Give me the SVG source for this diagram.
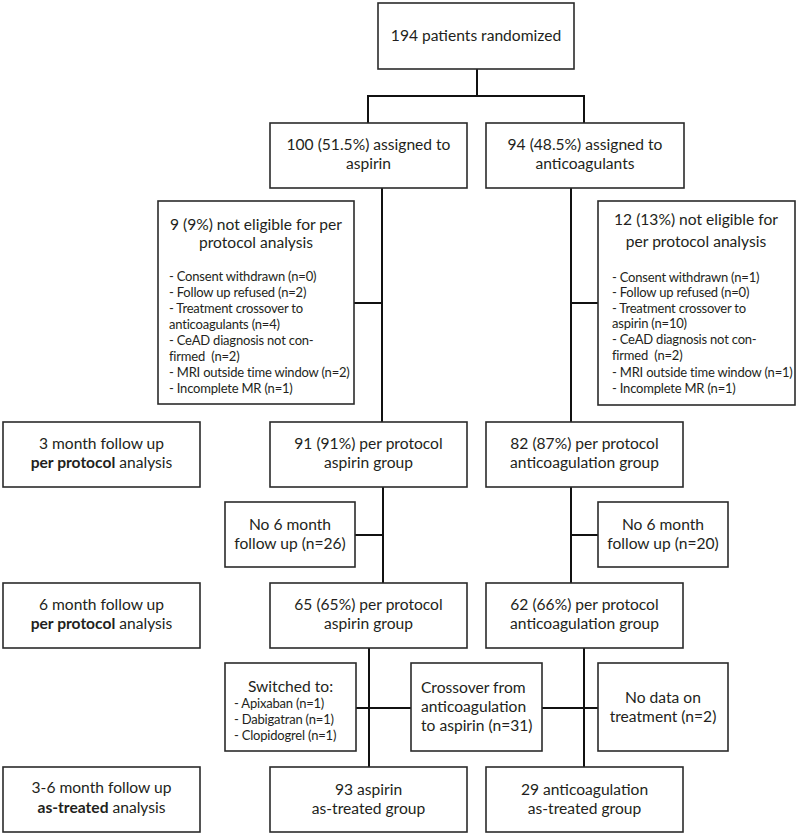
<svg xmlns="http://www.w3.org/2000/svg" width="798" height="836" viewBox="0 0 798 836">
<style>
rect.box{fill:#fff;stroke:#2b2b2b;stroke-width:1.6}
.conn line{stroke:#111;stroke-width:2;fill:none}
text{font-family:Lato,"Noto Sans","Liberation Sans",sans-serif;fill:#231f20}
.m{font-size:15.6px;text-anchor:middle}
.l{font-size:15.6px}
.s{font-size:13px;letter-spacing:-0.2px}
.b{font-weight:bold}
</style>
<rect width="798" height="836" fill="#fff"/>
<g class="conn" id="connectors">
<line x1="477" y1="69" x2="477" y2="96"/>
<line x1="367" y1="96" x2="585" y2="96"/>
<line x1="368" y1="96" x2="368" y2="123"/>
<line x1="584" y1="96" x2="584" y2="123"/>
<line x1="382" y1="188" x2="382" y2="422"/>
<line x1="354" y1="303" x2="382" y2="303"/>
<line x1="571" y1="188" x2="571" y2="422"/>
<line x1="571" y1="303" x2="598" y2="303"/>
<line x1="383" y1="487" x2="383" y2="583"/>
<line x1="355" y1="535" x2="383" y2="535"/>
<line x1="571" y1="487" x2="571" y2="583"/>
<line x1="571" y1="535" x2="598" y2="535"/>
<line x1="369" y1="648" x2="369" y2="767"/>
<line x1="584" y1="648" x2="584" y2="767"/>
<line x1="356" y1="708" x2="411" y2="708"/>
<line x1="542" y1="708" x2="598" y2="708"/>
</g>
<g id="randomized">
<rect class="box" x="378" y="3" width="196" height="66"/>
<text class="m" x="476" y="41">194 patients randomized</text>
</g>
<g id="assigned-aspirin">
<rect class="box" x="270" y="123" width="197" height="65"/>
<text class="m" x="368.5" y="150">100 (51.5%) assigned to</text>
<text class="m" x="368.5" y="169">aspirin</text>
</g>
<g id="assigned-anticoag">
<rect class="box" x="486" y="123" width="198" height="65"/>
<text class="m" x="585" y="150">94 (48.5%) assigned to</text>
<text class="m" x="585" y="169">anticoagulants</text>
</g>
<g id="excl-aspirin">
<rect class="box" x="158" y="201" width="196" height="203"/>
<text class="m" x="256" y="230">9 (9%) not eligible for per</text>
<text class="m" x="256" y="248">protocol analysis</text>
<text class="s" x="169" y="281">- Consent withdrawn (n=0)</text>
<text class="s" x="169" y="297">- Follow up refused (n=2)</text>
<text class="s" x="169" y="313">- Treatment crossover to</text>
<text class="s" x="169" y="329">anticoagulants (n=4)</text>
<text class="s" x="169" y="345">- CeAD diagnosis not con-</text>
<text class="s" x="169" y="361" xml:space="preserve">firmed  (n=2)</text>
<text class="s" x="169" y="377">- MRI outside time window (n=2)</text>
<text class="s" x="169" y="393">- Incomplete MR (n=1)</text>
</g>
<g id="excl-anticoag">
<rect class="box" x="598" y="201" width="197" height="204"/>
<text class="m" x="696" y="225">12 (13%) not eligible for</text>
<text class="m" x="696" y="247">per protocol analysis</text>
<text class="s" x="612" y="282">- Consent withdrawn (n=1)</text>
<text class="s" x="612" y="297">- Follow up refused (n=0)</text>
<text class="s" x="612" y="313">- Treatment crossover to</text>
<text class="s" x="612" y="328">aspirin (n=10)</text>
<text class="s" x="612" y="344">- CeAD diagnosis not con-</text>
<text class="s" x="612" y="360" xml:space="preserve">firmed  (n=2)</text>
<text class="s" x="612" y="377">- MRI outside time window (n=1)</text>
<text class="s" x="612" y="393">- Incomplete MR (n=1)</text>
</g>
<g id="label-3m">
<rect class="box" x="3" y="422" width="197" height="65"/>
<text class="m" x="101.5" y="449">3 month follow up</text>
<text class="m" x="101.5" y="468"><tspan class="b">per protocol</tspan> analysis</text>
</g>
<g id="pp-aspirin-3m">
<rect class="box" x="270" y="422" width="197" height="65"/>
<text class="m" x="368.5" y="449">91 (91%) per protocol</text>
<text class="m" x="368.5" y="468">aspirin group</text>
</g>
<g id="pp-anticoag-3m">
<rect class="box" x="486" y="422" width="197" height="65"/>
<text class="m" x="584.5" y="449">82 (87%) per protocol</text>
<text class="m" x="584.5" y="468">anticoagulation group</text>
</g>
<g id="nofu-aspirin">
<rect class="box" x="225" y="502" width="130" height="65"/>
<text class="m" x="290" y="530">No 6 month</text>
<text class="m" x="290" y="549">follow up (n=26)</text>
</g>
<g id="nofu-anticoag">
<rect class="box" x="598" y="502" width="130" height="65"/>
<text class="m" x="663" y="530">No 6 month</text>
<text class="m" x="663" y="549">follow up (n=20)</text>
</g>
<g id="label-6m">
<rect class="box" x="3" y="583" width="197" height="65"/>
<text class="m" x="101.5" y="610">6 month follow up</text>
<text class="m" x="101.5" y="629"><tspan class="b">per protocol</tspan> analysis</text>
</g>
<g id="pp-aspirin-6m">
<rect class="box" x="270" y="583" width="197" height="65"/>
<text class="m" x="368.5" y="610">65 (65%) per protocol</text>
<text class="m" x="368.5" y="629">aspirin group</text>
</g>
<g id="pp-anticoag-6m">
<rect class="box" x="486" y="583" width="197" height="65"/>
<text class="m" x="584.5" y="610">62 (66%) per protocol</text>
<text class="m" x="584.5" y="629">anticoagulation group</text>
</g>
<g id="switched">
<rect class="box" x="225" y="663" width="131" height="88"/>
<text class="m" x="290.5" y="692">Switched to:</text>
<text class="s" x="234" y="708">- Apixaban (n=1)</text>
<text class="s" x="234" y="724">- Dabigatran (n=1)</text>
<text class="s" x="234" y="740">- Clopidogrel (n=1)</text>
</g>
<g id="crossover">
<rect class="box" x="411" y="663" width="131" height="88"/>
<text class="l" x="421" y="693">Crossover from</text>
<text class="l" x="421" y="712">anticoagulation</text>
<text class="l" x="421" y="731">to aspirin (n=31)</text>
</g>
<g id="nodata">
<rect class="box" x="598" y="663" width="130" height="88"/>
<text class="m" x="663" y="703">No data on</text>
<text class="m" x="663" y="722">treatment (n=2)</text>
</g>
<g id="label-at">
<rect class="box" x="3" y="767" width="197" height="65"/>
<text class="m" x="101.5" y="793">3-6 month follow up</text>
<text class="m" x="101.5" y="813"><tspan class="b">as-treated</tspan> analysis</text>
</g>
<g id="at-aspirin">
<rect class="box" x="270" y="767" width="197" height="65"/>
<text class="m" x="368.5" y="795">93 aspirin</text>
<text class="m" x="368.5" y="814">as-treated group</text>
</g>
<g id="at-anticoag">
<rect class="box" x="486" y="767" width="197" height="65"/>
<text class="m" x="584.5" y="795">29 anticoagulation</text>
<text class="m" x="584.5" y="814">as-treated group</text>
</g>
</svg>
